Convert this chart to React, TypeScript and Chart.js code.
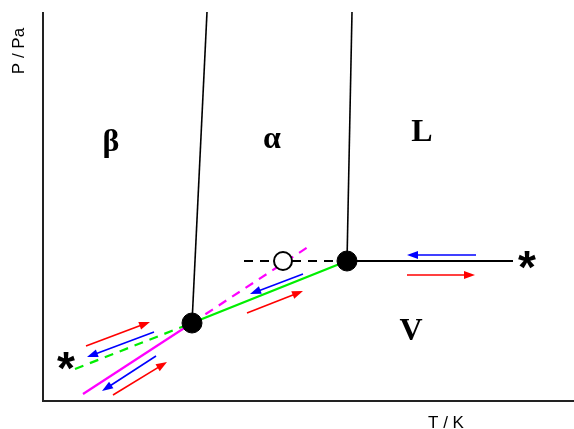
import React, { useEffect, useRef } from "react";
import { Chart, registerables } from "chart.js";

Chart.register(...registerables);

// Schematic phase diagram, arbitrary units (T horizontal, P vertical)
const tripleBAV = { x: 149, y: 78 };
const tripleALV = { x: 304, y: 140 };
const criticalPoint = { x: 484, y: 141 };
const lowStar = { x: 23, y: 40 };
const metastablePoint = { x: 240, y: 140 };

const betaAlphaLine = [tripleBAV, { x: 164, y: 389 }];
const alphaLiquidLine = [tripleALV, { x: 309, y: 389 }];
const liquidVapourLine = [tripleALV, { x: 470, y: 140 }];
const liquidVapourMeta = [{ x: 201, y: 140 }, tripleALV];
const alphaVapourLine = [tripleBAV, tripleALV];
const alphaVapourMeta = [{ x: 32, y: 32 }, tripleBAV];
const betaVapourLine = [{ x: 40, y: 7 }, tripleBAV];
const betaVapourMeta = [tripleBAV, { x: 265, y: 154 }];

const regionLabels = ["β", "α", "L", "V"];
const regionPos = [
  { x: 68, y: 258 },
  { x: 229, y: 261 },
  { x: 379, y: 268 },
  { x: 368, y: 69 },
];

// arrows: [from, to], head at "to"
const redArrows = [
  [{ x: 364, y: 126 }, { x: 432, y: 126 }],
  [{ x: 204, y: 88 }, { x: 260, y: 110 }],
  [{ x: 43, y: 55 }, { x: 107, y: 79 }],
  [{ x: 70, y: 6 }, { x: 124, y: 39 }],
];
const blueArrows = [
  [{ x: 433, y: 146 }, { x: 364, y: 146 }],
  [{ x: 260, y: 127 }, { x: 207, y: 107 }],
  [{ x: 111, y: 69 }, { x: 44, y: 44 }],
  [{ x: 113, y: 45 }, { x: 59, y: 10 }],
];

const overlayPlugin = {
  id: "overlay",
  afterDatasetsDraw(chart: any) {
    const ctx = chart.ctx;
    const xs = chart.scales.x;
    const ys = chart.scales.y;
    const px = (p: { x: number; y: number }) => [xs.getPixelForValue(p.x), ys.getPixelForValue(p.y)];
    const drawArrow = (a: any, color: string) => {
      const [x1, y1] = px(a[0]);
      const [x2, y2] = px(a[1]);
      const ang = Math.atan2(y2 - y1, x2 - x1);
      const hl = 11, hw = 4;
      ctx.save();
      ctx.strokeStyle = color;
      ctx.fillStyle = color;
      ctx.lineWidth = 1.6;
      ctx.beginPath();
      ctx.moveTo(x1, y1);
      ctx.lineTo(x2 - hl * Math.cos(ang) * 0.8, y2 - hl * Math.sin(ang) * 0.8);
      ctx.stroke();
      ctx.beginPath();
      ctx.moveTo(x2, y2);
      ctx.lineTo(x2 - hl * Math.cos(ang) - hw * Math.sin(ang), y2 - hl * Math.sin(ang) + hw * Math.cos(ang));
      ctx.lineTo(x2 - hl * Math.cos(ang) + hw * Math.sin(ang), y2 - hl * Math.sin(ang) - hw * Math.cos(ang));
      ctx.closePath();
      ctx.fill();
      ctx.restore();
    };
    redArrows.forEach((a) => drawArrow(a, "#ff0000"));
    blueArrows.forEach((a) => drawArrow(a, "#0000ff"));

    ctx.save();
    ctx.fillStyle = "#000";
    ctx.font = "bold 32px 'Liberation Serif', serif";
    ctx.textAlign = "center";
    ctx.textBaseline = "middle";
    regionLabels.forEach((t, i) => {
      const [x, y] = px(regionPos[i]);
      ctx.fillText(t, x, y);
    });

    // asterisks, centered on glyph bounds
    ctx.font = "bold 46px 'Liberation Sans', sans-serif";
    ctx.textBaseline = "alphabetic";
    const m = ctx.measureText("*");
    const asc = m.actualBoundingBoxAscent;
    const desc = m.actualBoundingBoxDescent;
    [criticalPoint, lowStar].forEach((p) => {
      const [x, y] = px(p);
      ctx.fillText("*", x, y + (asc - desc) / 2);
    });

    // axes
    const a = chart.chartArea;
    ctx.strokeStyle = "#222";
    ctx.lineWidth = 2;
    ctx.beginPath();
    ctx.moveTo(a.left, a.top);
    ctx.lineTo(a.left, a.bottom);
    ctx.lineTo(a.right, a.bottom);
    ctx.stroke();

    ctx.font = "17px 'Liberation Sans', Arial, sans-serif";
    ctx.textAlign = "center";
    ctx.textBaseline = "middle";
    ctx.fillText("T / K", 446, 423);
    ctx.translate(19, 51);
    ctx.rotate(-Math.PI / 2);
    ctx.fillText("P / Pa", 0, 0);
    ctx.restore();
  },
};

export default function App() {
  const ref = useRef<HTMLCanvasElement>(null);
  useEffect(() => {
    if (!ref.current) return;
    const line = (data: any, color: string, dash: number[] = [], width = 2, order = 5) => ({
      type: "scatter" as const,
      data,
      showLine: true,
      borderColor: color,
      borderWidth: width,
      borderDash: dash,
      pointRadius: 0,
      order,
    });
    const chart = new Chart(ref.current, {
      type: "scatter",
      data: {
        datasets: [
          {
            data: [tripleBAV, tripleALV],
            pointRadius: 10,
            pointBackgroundColor: "#000",
            pointBorderColor: "#000",
            showLine: false,
            order: 0,
          } as any,
          {
            data: [metastablePoint],
            pointRadius: 9,
            pointBackgroundColor: "#fff",
            pointBorderColor: "#000",
            pointBorderWidth: 2,
            showLine: false,
            order: 1,
          } as any,
          line(betaAlphaLine, "#000", [], 1.6),
          line(alphaLiquidLine, "#000", [], 1.6),
          line(liquidVapourLine, "#000", [], 2),
          line(liquidVapourMeta, "#000", [9, 7], 2),
          line(alphaVapourLine, "#00ee00", [], 2.2),
          line(alphaVapourMeta, "#00ee00", [9, 7], 2.2),
          line(betaVapourLine, "#ff00ff", [], 2.2),
          line(betaVapourMeta, "#ff00ff", [9, 7], 2.2),
        ],
      },
      options: {
        animation: false,
        responsive: false,
        events: [],
        layout: { autoPadding: false, padding: { left: 43, top: 12, right: 0, bottom: 28 } },
        plugins: { legend: { display: false }, tooltip: { enabled: false } },
        scales: {
          x: { type: "linear", display: false, min: 0, max: 531 },
          y: { type: "linear", display: false, min: 0, max: 389 },
        },
      },
      plugins: [overlayPlugin],
    });
    return () => chart.destroy();
  }, []);
  return (
    <div style={{ position: "fixed", left: 0, top: 0, width: 574, height: 429, background: "#fff" }}>
      <canvas ref={ref} width={574} height={429} />
    </div>
  );
}
